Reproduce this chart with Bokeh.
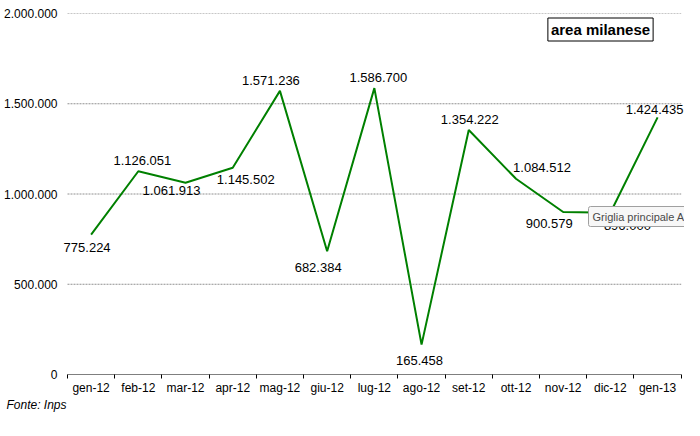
from bokeh.plotting import figure
from bokeh.models import ColumnDataSource, Range1d, FixedTicker, Label, Title
from bokeh.core.properties import value
from bokeh.embed import file_html
from bokeh.resources import INLINE

# ---- data ----
months = ["gen-12", "feb-12", "mar-12", "apr-12", "mag-12", "giu-12", "lug-12",
          "ago-12", "set-12", "ott-12", "nov-12", "dic-12", "gen-13"]
values = [775224, 1126051, 1061913, 1145502, 1571236, 682384, 1586700,
          165458, 1354222, 1084512, 900579, 896000, 1424435]
value_labels = ["775.224", "1.126.051", "1.061.913", "1.145.502", "1.571.236",
                "682.384", "1.586.700", "165.458", "1.354.222", "1.084.512",
                "900.579", "896.000", "1.424.435"]
y_ticks = [0, 500000, 1000000, 1500000, 2000000]
y_tick_labels = ["0", "500.000", "1.000.000", "1.500.000", "2.000.000"]
title_text = "area milanese"
source_text = "Fonte: Inps"
tooltip_text = "Griglia principale A"

# label placement (screen px, relative to the point)
label_dx = [-4, 4, -14, 13, -9, -9, 4, -2, 1, 26, -14, 17, -3]
label_dy = [13, -11, 8, 12, -10, 16, -11, 16, -11, -11, 12, 13, -8]

FONT = "Liberation Sans"

n = len(months)
xs = [i + 0.5 for i in range(n)]
src = ColumnDataSource(dict(x=xs, y=values, lab=value_labels,
                            dx=label_dx, dy=label_dy))

x_start = -0.106
x_end = n + 0.07

p = figure(frame_width=622, frame_height=361, output_backend="svg",
           toolbar_location=None,
           x_range=Range1d(x_start, x_end), y_range=Range1d(0, 2000000),
           min_border_left=62, min_border_right=0, min_border_top=13,
           min_border_bottom=0)
p.outline_line_color = None
p.background_fill_color = "white"
p.border_fill_color = "white"

# x axis
p.xaxis.ticker = FixedTicker(ticks=xs, minor_ticks=list(range(n + 1)))
p.xaxis.major_label_overrides = {x: m for x, m in zip(xs, months)}
p.xaxis.major_tick_line_color = None
p.xaxis.major_tick_out = 0
p.xaxis.major_tick_in = 0
p.xaxis.minor_tick_out = 4
p.xaxis.minor_tick_in = 0
p.xaxis.minor_tick_line_color = "black"
p.xaxis.axis_line_color = None
p.xaxis.major_label_standoff = 2
p.xaxis.major_label_text_font = FONT
p.xaxis.major_label_text_font_size = "12px"
p.xaxis.major_label_text_color = "black"
p.xaxis.major_label_text_line_height = 0.7

# y axis
p.yaxis.ticker = FixedTicker(ticks=y_ticks)
p.yaxis.major_label_overrides = {t: l for t, l in zip(y_ticks, y_tick_labels)}
p.yaxis.axis_line_color = None
p.yaxis.major_tick_line_color = None
p.yaxis.major_tick_out = 0
p.yaxis.major_tick_in = 0
p.yaxis.minor_tick_line_color = None
p.yaxis.major_label_standoff = 5
p.yaxis.major_label_text_font = FONT
p.yaxis.major_label_text_font_size = "12px"
p.yaxis.major_label_text_color = "black"

p.xgrid.grid_line_color = None
p.ygrid.grid_line_color = None

# gridlines and x axis line, limited to the category span
grid_y = y_ticks[1:]
p.segment(x0=[0] * len(grid_y), x1=[n] * len(grid_y), y0=grid_y, y1=grid_y,
          line_color="#909090", line_dash="2 1", line_width=1)
p.segment(x0=[0], x1=[n], y0=[y_ticks[0]], y1=[y_ticks[0]],
          line_color="black", line_width=1)

p.line("x", "y", source=src, line_color="#008000", line_width=2)
p.text("x", "y", text="lab", source=src, x_offset="dx", y_offset="dy",
       text_align="center", text_baseline="middle",
       text_font=value(FONT), text_font_size="13px", text_color="black")

p.add_layout(Label(x=538, y=345, x_units="screen", y_units="screen",
                   text=title_text, text_font=FONT, text_font_size="15px",
                   text_font_style="bold", text_align="center",
                   text_baseline="middle", text_color="black",
                   border_line_color="black", border_line_width=1,
                   background_fill_color="white", padding=3))

p.add_layout(Label(x=526, y=158, x_units="screen", y_units="screen",
                   text=tooltip_text, text_font=FONT,
                   text_font_size="11px", text_align="left",
                   text_baseline="middle", text_color="#4a4a4a",
                   border_line_color="#a0a0a0", border_line_width=1,
                   background_fill_color="#f7f7f7", padding=4,
                   border_radius=2))

p.add_layout(Title(text=source_text, align="left", offset=-56, standoff=0,
                   vertical_align="top",
                   text_font=FONT, text_font_size="12px",
                   text_font_style="italic", text_color="black"), "below")

open("out.html", "w").write(file_html(p, INLINE))
